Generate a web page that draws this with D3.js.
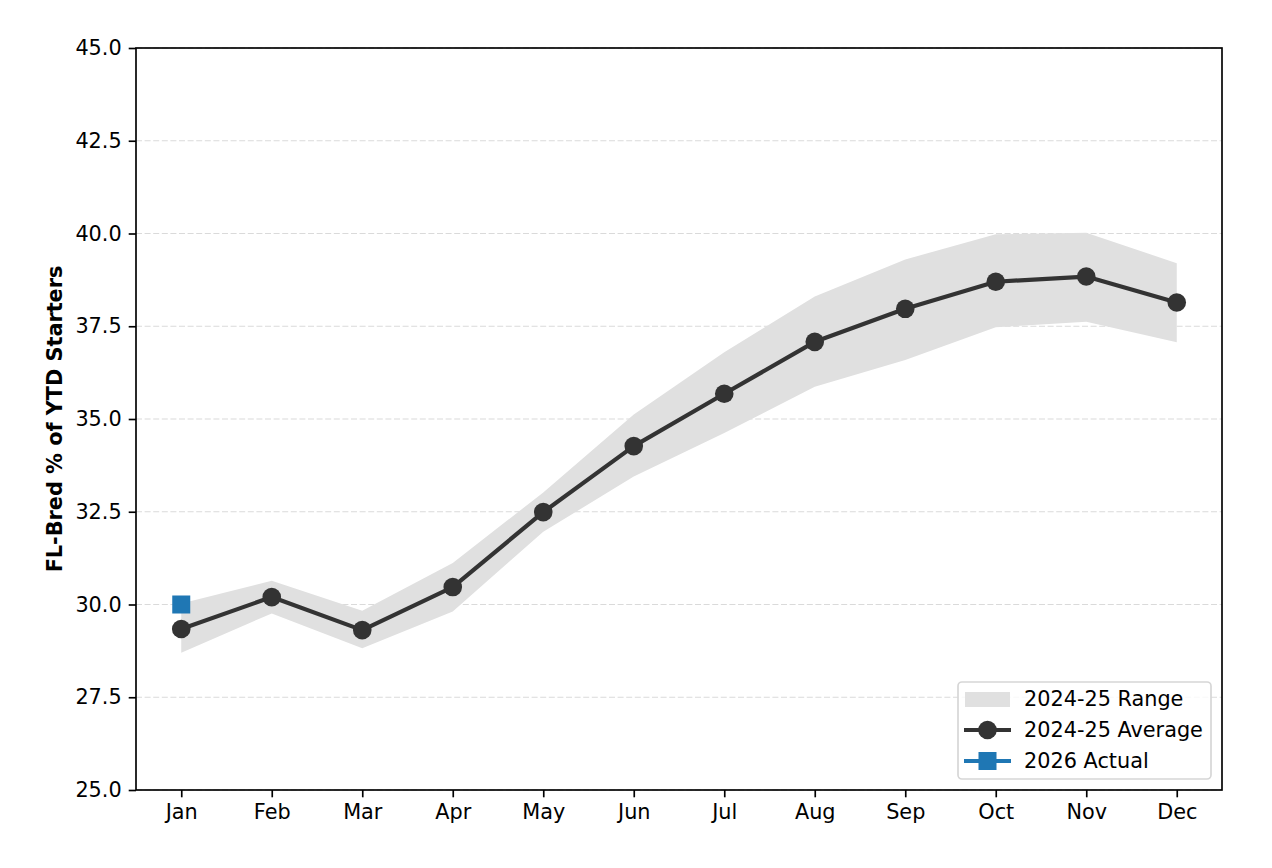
<!DOCTYPE html>
<html><head><meta charset="utf-8">
<script src="https://cdn.jsdelivr.net/npm/d3@7"></script>
<style>body{margin:0;background:#fff;} svg{display:block;} text{font-family:"DejaVu Sans",sans-serif;}</style>
</head><body>
<svg id="c" width="1272" height="868"></svg>
<script>
const months = ["Jan","Feb","Mar","Apr","May","Jun","Jul","Aug","Sep","Oct","Nov","Dec"];
const avgValues = [29.34,30.20,29.31,30.47,32.49,34.27,35.68,37.08,37.97,38.70,38.84,38.14];
const rangeLow  = [28.70,29.76,28.82,29.81,31.96,33.45,34.62,35.87,36.59,37.47,37.62,37.07];
const rangeHigh = [30.03,30.64,29.83,31.12,33.02,35.12,36.80,38.30,39.30,39.98,40.02,39.20];
const actualMonths = ["Jan"];
const actualValues = [30.0];
const yTicks = [25,27.5,30,32.5,35,37.5,40,42.5,45];
const yLabel = "FL-Bred % of YTD Starters";
const legendLabels = ["2024-25 Range","2024-25 Average","2026 Actual"];

const L=136,R=1222,T=48,B=790;
const FS=20.8;
const svg=d3.select("#c");
const x=d3.scaleLinear().domain([-0.5,11.5]).range([L,R]);
const y=d3.scaleLinear().domain([25,45]).range([B,T]);

// grid
svg.append("g").selectAll("line").data(yTicks).join("line")
 .attr("x1",L).attr("x2",R).attr("y1",d=>y(d)).attr("y2",d=>y(d))
 .attr("stroke","#dadada").attr("stroke-width",1.2).attr("stroke-dasharray","6,2.6");

// band
const area=d3.area().x((d,i)=>x(i)).y0((d,i)=>y(rangeLow[i])).y1((d,i)=>y(rangeHigh[i]));
svg.append("path").datum(months).attr("d",area).attr("fill","#e0e0e0");

// avg line
const line=d3.line().x((d,i)=>x(i)).y(d=>y(d));
svg.append("path").datum(avgValues).attr("d",line).attr("fill","none")
 .attr("stroke","#333333").attr("stroke-width",4.2).attr("stroke-linejoin","round");
svg.append("g").selectAll("circle").data(avgValues).join("circle")
 .attr("cx",(d,i)=>x(i)).attr("cy",d=>y(d)).attr("r",9.3).attr("fill","#333333");

// actual
const act=actualValues.map((v,i)=>({i:months.indexOf(actualMonths[i]),v}));
svg.append("path").datum(act).attr("d",d3.line().x(d=>x(d.i)).y(d=>y(d.v)))
 .attr("fill","none").attr("stroke","#1f77b4").attr("stroke-width",4.2);
svg.append("g").selectAll("rect").data(act).join("rect")
 .attr("x",d=>x(d.i)-9).attr("y",d=>y(d.v)-9).attr("width",18).attr("height",18).attr("fill","#1f77b4");

// axes
const yAxis=d3.axisLeft(y).tickValues(yTicks).tickFormat(d3.format(".1f")).tickSize(7.3).tickPadding(7);
const gy=svg.append("g").attr("transform",`translate(${L},0)`).call(yAxis);
const xAxis=d3.axisBottom(x).tickValues(d3.range(12)).tickFormat(i=>months[i]).tickSize(7.3).tickPadding(7);
const gx=svg.append("g").attr("transform",`translate(0,${B})`).call(xAxis);
[gx,gy].forEach(g=>{g.select(".domain").remove();
 g.attr("font-size",FS).attr("font-family","DejaVu Sans");
 g.selectAll(".tick line").attr("stroke","#000").attr("stroke-width",1.67);
 g.selectAll("text").attr("font-size",FS).attr("fill","#000");});
svg.append("rect").attr("x",L).attr("y",T).attr("width",R-L).attr("height",B-T)
 .attr("fill","none").attr("stroke","#000").attr("stroke-width",1.67);

svg.append("text").attr("transform",`translate(62,${(T+B)/2}) rotate(-90)`)
 .attr("text-anchor","middle").attr("font-size",FS).attr("font-weight","bold").text(yLabel);

// legend
const lg=svg.append("g");
lg.append("rect").attr("x",958).attr("y",682).attr("width",253).attr("height",97).attr("rx",4)
 .attr("fill","#fff").attr("fill-opacity",0.8).attr("stroke","#d6d6d6").attr("stroke-width",1.67);
const rows=[699,730,761];
lg.append("rect").attr("x",965).attr("y",rows[0]-7).attr("width",45).attr("height",15).attr("fill","#e0e0e0");
lg.append("line").attr("x1",964).attr("x2",1011).attr("y1",rows[1]).attr("y2",rows[1]).attr("stroke","#333333").attr("stroke-width",4.2);
lg.append("circle").attr("cx",987.5).attr("cy",rows[1]).attr("r",9.3).attr("fill","#333333");
lg.append("line").attr("x1",964).attr("x2",1011).attr("y1",rows[2]).attr("y2",rows[2]).attr("stroke","#1f77b4").attr("stroke-width",4.2);
lg.append("rect").attr("x",978.5).attr("y",rows[2]-9).attr("width",18).attr("height",18).attr("fill","#1f77b4");
lg.selectAll("text.l").data(legendLabels).join("text").attr("class","l")
 .attr("x",1024).attr("y",(d,i)=>rows[i]).attr("dy","0.35em").attr("font-size",FS).text(d=>d);
</script>
</body></html>
